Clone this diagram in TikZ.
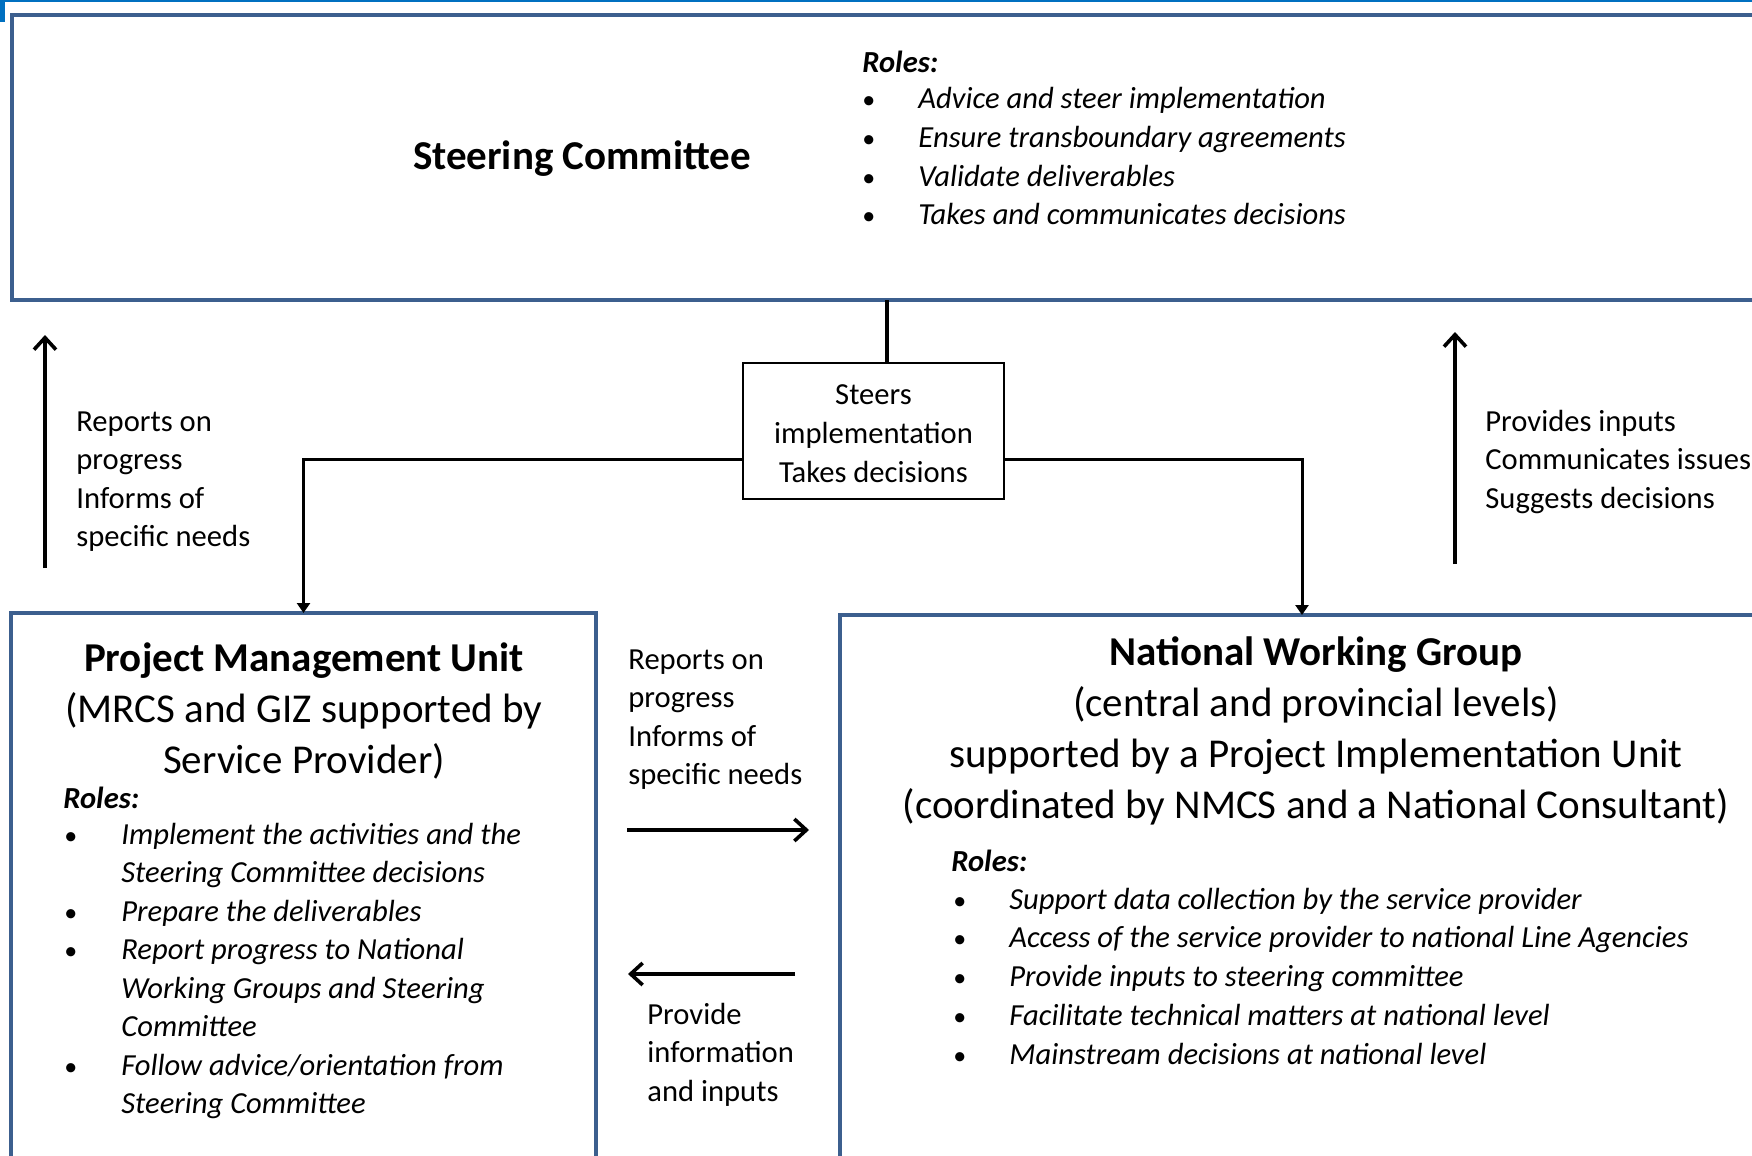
\documentclass[tikz,border=0pt]{standalone}
\usepackage{fontspec}
\setmainfont{Carlito}
\usetikzlibrary{arrows.meta}
\definecolor{boxblue}{HTML}{3C5F8E}
\definecolor{barblue}{HTML}{0070C0}

\begin{document}
\begin{tikzpicture}[x=0.5pt, y=-0.5pt,
    unit/.style={draw=boxblue, line width=2pt, anchor=north west, inner sep=0pt, outer sep=0pt},
    head/.style={align=center, inner sep=0pt, font=\fontsize{20.5}{25.5}\selectfont},
    txt/.style={anchor=base west, inner sep=0pt, font=\fontsize{15.3}{19.25}\selectfont},
    dot/.style={anchor=base west, inner sep=0pt, font=\fontsize{13}{19.25}\selectfont},
    role/.style={txt, font=\fontsize{15.3}{19.25}\selectfont\itshape},
    rolehead/.style={txt, font=\fontsize{15.3}{19.25}\selectfont\bfseries\itshape},
    feed/.style={line width=1.5pt, -{Triangle[width=6.5pt,length=5pt]}},
    flow/.style={line width=1.6pt, -{Straight Barb[width=11pt,length=6pt,line width=1.8pt]}}]
    \useasboundingbox (0,0) rectangle (1752,1156);
    \fill[barblue] (0,0) rectangle (1752,2);
    \fill[barblue] (0,0) rectangle (5,22);

    % Steering Committee
    \node[unit, minimum width=889pt, minimum height=142.5pt] (sc) at (12,15) {};
    \node[head, font=\fontsize{20.5}{25.5}\selectfont\bfseries] (sctitle) at (582,159) {Steering Committee};
    \node[rolehead] (scroles) at (862,73) {Roles:};
    \foreach \t [count=\i] in {Advice and steer implementation, Ensure transboundary agreements,
                               Validate deliverables, Takes and communicates decisions} {
        \node[dot] (scb\i) at (862, 70.5+38.5*\i) {•};
        \node[role] (sci\i) at (918, 70.5+38.5*\i) {\t};
    }

    % Steers box and links
    \node[draw, line width=0.7pt, minimum width=130.5pt, minimum height=68pt, inner sep=0pt,
          align=center, font=\fontsize{15.3}{19.5}\selectfont] (steer) at (873.5,431)
          {\rule{0pt}{12.2pt}Steers\\implementation\\Takes decisions};
    \coordinate (stem) at ([xshift=6.75pt]steer.north);
    \draw[line width=1.6pt] (stem) -- (stem |- sc.south);

    % Project Management Unit
    \node[unit, minimum width=292.5pt, minimum height=293.5pt] (pmu) at (11,613) {};
    \node[head] (pmutitle) at (304,711)
        {\textbf{Project Management Unit}\\(MRCS and GIZ supported by\\Service Provider)};
    \node[rolehead] (pmuroles) at (63,808) {Roles:};
    \foreach \i in {1,3,4,7}
        \node[dot] (pmub\i) at (64, 805.5+38.5*\i) {•};
    \foreach \t [count=\i] in {Implement the activities and the, Steering Committee decisions,
                               Prepare the deliverables, Report progress to National,
                               Working Groups and Steering, Committee,
                               Follow advice/orientation from, Steering Committee}
        \node[role] (pmui\i) at (121, 805.5+38.5*\i) {\t};

    % National Working Group
    \node[unit, minimum width=475pt, minimum height=292.5pt] (nwg) at (840,615) {};
    \node[head] (nwgtitle) at (1316,731)
        {\textbf{National Working Group}\\(central and provincial levels)\\supported by a Project Implementation Unit\\(coordinated by NMCS and a National Consultant)};
    \node[rolehead] (nwgroles) at (951,871) {Roles:};
    \foreach \t [count=\i] in {Support data collection by the service provider,
                               Access of the service provider to national Line Agencies,
                               Provide inputs to steering committee,
                               Facilitate technical matters at national level,
                               Mainstream decisions at national level} {
        \node[dot] (nwgb\i) at (953, 870.2+38.8*\i) {•};
        \node[role] (nwgi\i) at (1009, 870.2+38.8*\i) {\t};
    }

    % steering links down
    \coordinate (nwgin) at ([xshift=-6.5pt]nwg.north);
    \draw[feed] ([yshift=-14pt]steer.west) -| (pmu.north);
    \draw[feed] ([yshift=-14pt]steer.east) -| (nwgin);

    % reporting up, left
    \coordinate (lfoot) at (45,568);
    \coordinate (ltop) at (45,335);
    \draw[flow] (lfoot) -- (ltop);
    \foreach \t [count=\i] in {Reports on, progress, Informs of, specific needs}
        \node[txt] (lnote\i) at (76, 392.5+38.5*\i) {\t};

    % inputs up, right
    \coordinate (rfoot) at (1455,564);
    \coordinate (rtop) at (1455,332);
    \draw[flow] (rfoot) -- (rtop);
    \foreach \t [count=\i] in {Provides inputs, Communicates issues, Suggests decisions}
        \node[txt] (rnote\i) at (1485, 392.5+38.5*\i) {\t};

    % exchange between PMU and NWG
    \coordinate (repfrom) at (627,830);
    \coordinate (repto) at (809,830);
    \coordinate (infofrom) at (795,974);
    \coordinate (infoto) at (628,974);
    \draw[flow] (repfrom) -- (repto);
    \draw[flow] (infofrom) -- (infoto);
    \foreach \t [count=\i] in {Reports on, progress, Informs of, specific needs}
        \node[txt] (mnote\i) at (628, 630.5+38.5*\i) {\t};
    \foreach \t [count=\i] in {Provide, information, and inputs}
        \node[txt] (inote\i) at (647, 985.5+38.5*\i) {\t};
\end{tikzpicture}
\end{document}
